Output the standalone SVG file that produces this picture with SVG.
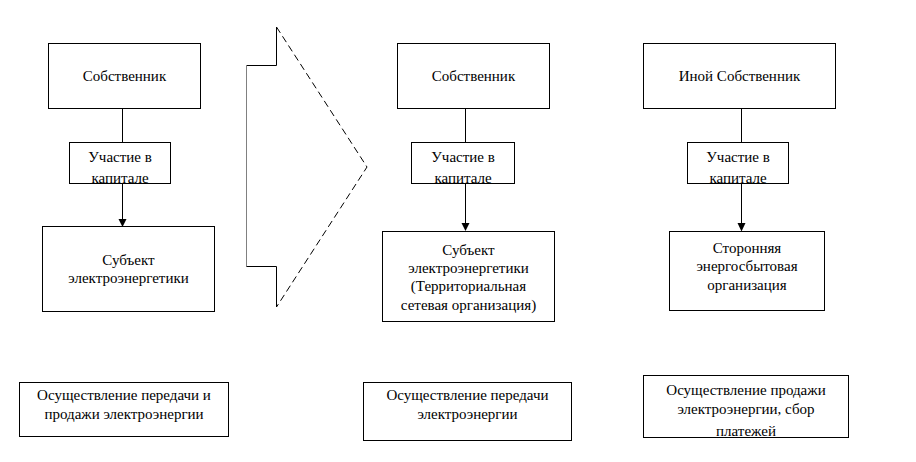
<svg xmlns="http://www.w3.org/2000/svg" width="916" height="462" viewBox="0 0 916 462">
<style>
.box{fill:#fff;stroke:#000;stroke-width:1}
.t{font-family:'Liberation Serif','DejaVu Serif',serif;font-size:15px;fill:#000;text-anchor:middle}
.ln{stroke:#000;stroke-width:1;fill:none}
.dash{stroke:#000;stroke-width:1;fill:none;stroke-dasharray:7,4}
</style>
<defs>
<clipPath id="c1"><rect x="69" y="142" width="102" height="41.5"/></clipPath>
<clipPath id="c2"><rect x="411" y="142" width="104" height="41.5"/></clipPath>
<clipPath id="c3"><rect x="687" y="142" width="102" height="41.5"/></clipPath>
<clipPath id="c4"><rect x="643" y="375" width="206" height="62"/></clipPath>
</defs>
<rect width="916" height="462" fill="#fff"/>

<g id="connectors">
<line class="ln" x1="122.5" y1="108.5" x2="122.5" y2="142.5"/>
<line class="ln" x1="122.5" y1="183.5" x2="122.5" y2="220"/>
<polygon points="118.5,219 126.5,219 122.5,227" fill="#000"/>
<line class="ln" x1="465.5" y1="108.5" x2="465.5" y2="142.5"/>
<line class="ln" x1="465.5" y1="183.5" x2="465.5" y2="224"/>
<polygon points="461.5,223 469.5,223 465.5,231" fill="#000"/>
<line class="ln" x1="741.5" y1="108.5" x2="741.5" y2="142.5"/>
<line class="ln" x1="741.5" y1="183.5" x2="741.5" y2="224"/>
<polygon points="737.5,223 745.5,223 741.5,231.5" fill="#000"/>
</g>

<g id="transition-arrow">
<path class="ln" d="M276.5,27 V65.5 H246.5"/>
<path class="ln" stroke="#808080" style="stroke:#808080" d="M246.5,65.5 V266.5"/>
<path class="ln" d="M246.5,266.5 H276.5 V307"/>
<path class="dash" d="M276.5,27 L367,167 L276.5,307"/>
</g>

<g id="owner1">
<rect class="box" x="48.5" y="43.5" width="152" height="65"/>
<text class="t" x="124.5" y="81">Собственник</text>
</g>
<g id="share1">
<rect class="box" x="69.5" y="142.5" width="101" height="41"/>
<g clip-path="url(#c1)">
<text class="t" x="120" y="162">Участие в</text>
<text class="t" x="120" y="182.5">капитале</text>
</g>
</g>
<g id="subject1">
<rect class="box" x="42.5" y="226.5" width="172" height="85"/>
<text class="t" x="128.5" y="265">Субъект</text>
<text class="t" x="128.5" y="283">электроэнергетики</text>
</g>
<g id="function1">
<rect class="box" x="19.5" y="382.5" width="209" height="54"/>
<text class="t" x="124" y="400">Осуществление передачи и</text>
<text class="t" x="124" y="419">продажи электроэнергии</text>
</g>

<g id="owner2">
<rect class="box" x="397.5" y="43.5" width="152" height="65"/>
<text class="t" x="473.5" y="81">Собственник</text>
</g>
<g id="share2">
<rect class="box" x="411.5" y="142.5" width="103" height="41"/>
<g clip-path="url(#c2)">
<text class="t" x="463" y="162">Участие в</text>
<text class="t" x="463" y="182.5">капитале</text>
</g>
</g>
<g id="subject2">
<rect class="box" x="382.5" y="231.5" width="172" height="90"/>
<text class="t" x="468.5" y="255">Субъект</text>
<text class="t" x="468.5" y="273">электроэнергетики</text>
<text class="t" x="468.5" y="291">(Территориальная</text>
<text class="t" x="468.5" y="310">сетевая организация)</text>
</g>
<g id="function2">
<rect class="box" x="363.5" y="382.5" width="208" height="58"/>
<text class="t" x="467.5" y="399.5">Осуществление передачи</text>
<text class="t" x="467.5" y="419">электроэнергии</text>
</g>

<g id="owner3">
<rect class="box" x="643.5" y="43.5" width="192" height="65"/>
<text class="t" x="739.5" y="81">Иной Собственник</text>
</g>
<g id="share3">
<rect class="box" x="687.5" y="142.5" width="101" height="41"/>
<g clip-path="url(#c3)">
<text class="t" x="738" y="162">Участие в</text>
<text class="t" x="738" y="182.5">капитале</text>
</g>
</g>
<g id="subject3">
<rect class="box" x="669.5" y="231.5" width="155" height="79"/>
<text class="t" x="747" y="252.5">Сторонняя</text>
<text class="t" x="747" y="271">энергосбытовая</text>
<text class="t" x="747" y="289.5">организация</text>
</g>
<g id="function3">
<rect class="box" x="643.5" y="375.5" width="205" height="62"/>
<g clip-path="url(#c4)">
<text class="t" x="746" y="395">Осуществление продажи</text>
<text class="t" x="746" y="414">электроэнергии, сбор</text>
<text class="t" x="746" y="436">платежей</text>
</g>
</g>
</svg>
